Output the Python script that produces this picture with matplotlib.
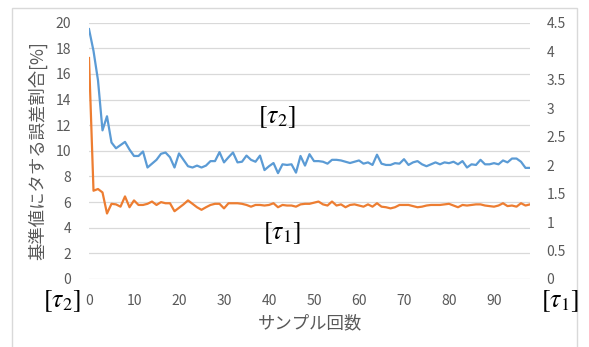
import numpy as np
import matplotlib
matplotlib.use("Agg")
import matplotlib.pyplot as plt
from matplotlib.patches import Rectangle
from matplotlib.ticker import FuncFormatter

plt.rcParams['font.family'] = ['Noto Sans CJK JP', 'DejaVu Sans']
plt.rcParams['mathtext.fontset'] = 'stix'

# tau2 (left axis, %)
tau2 = [19.5, 17.8, 15.5, 11.6, 12.7, 10.65, 10.2, 10.45, 10.7, 10.1,
        9.6, 9.6, 9.95, 8.7, 9.0, 9.3, 9.77, 9.87, 9.5, 8.7,
        9.8, 9.3, 8.8, 8.7, 8.85, 8.7, 8.85, 9.2, 9.2, 9.9,
        9.1, 9.5, 9.87, 9.1, 9.15, 9.63, 9.3, 9.15, 9.63, 8.5,
        8.8, 9.05, 8.26, 8.95, 8.9, 8.95, 8.3, 9.6, 8.85, 9.74,
        9.2, 9.2, 9.15, 9.0, 9.3, 9.3, 9.25, 9.15, 9.05, 9.15,
        9.25, 9.0, 9.1, 8.9, 9.7, 9.0, 8.9, 8.9, 9.04, 9.0,
        9.35, 8.9, 9.1, 9.2, 8.95, 8.8, 8.95, 9.1, 8.95, 9.1,
        9.04, 9.15, 8.95, 9.2, 8.7, 8.95, 8.9, 9.3, 8.95, 8.95,
        9.04, 8.95, 9.25, 9.1, 9.4, 9.4, 9.15, 8.67, 8.67]

# tau1 (right axis)
tau1 = [3.88, 1.55, 1.58, 1.52, 1.15, 1.32, 1.31, 1.27, 1.45, 1.26,
        1.38, 1.30, 1.30, 1.32, 1.36, 1.30, 1.35, 1.33, 1.33, 1.19,
        1.25, 1.31, 1.38, 1.32, 1.26, 1.215, 1.26, 1.30, 1.32, 1.32,
        1.24, 1.33, 1.33, 1.33, 1.32, 1.30, 1.27, 1.30, 1.30, 1.29,
        1.30, 1.33, 1.26, 1.30, 1.29, 1.29, 1.27, 1.31, 1.32, 1.32,
        1.34, 1.36, 1.31, 1.29, 1.36, 1.29, 1.31, 1.26, 1.30, 1.31,
        1.29, 1.27, 1.31, 1.27, 1.33, 1.27, 1.26, 1.24, 1.26, 1.30,
        1.30, 1.30, 1.28, 1.26, 1.27, 1.29, 1.30, 1.30, 1.30, 1.31,
        1.32, 1.29, 1.26, 1.30, 1.29, 1.30, 1.31, 1.31, 1.29, 1.28,
        1.27, 1.29, 1.33, 1.28, 1.29, 1.27, 1.33, 1.29, 1.31]

x_ticks = [0, 10, 20, 30, 40, 50, 60, 70, 80, 90]
left_ticks = [0, 2, 4, 6, 8, 10, 12, 14, 16, 18, 20]
right_ticks = [0, 0.5, 1, 1.5, 2, 2.5, 3, 3.5, 4, 4.5]

xlabel = "サンプル回数"
ylabel = "基準値にタする誤差割合[%]"

W, H = 589, 347
fig = plt.figure(figsize=(W / 100, H / 100), dpi=100)

# outer light frame
fig.patches.append(Rectangle((12 / W, -0.05), (577 - 12) / W, 1.05 - 8 / H,
                             transform=fig.transFigure, fill=False,
                             edgecolor='#d9d9d9', linewidth=1.0))

l, r, t, b = 89, 530, 22.7, 279
ax = fig.add_axes([l / W, 1 - b / H, (r - l) / W, (b - t) / H])
ax2 = ax.twinx()

tc = '#595959'
x1 = np.arange(len(tau2))
x2 = np.arange(len(tau1))

ax.plot(x1, tau2, color='#5B9BD5', linewidth=1.6, zorder=3)
ax2.plot(x2, tau1, color='#ED7D31', linewidth=1.6, zorder=3)

ax.set_xlim(0, len(tau2) - 1)
ax.set_ylim(0, 20)
ax2.set_ylim(0, 4.5)
ax.set_xticks(x_ticks)
ax.set_yticks(left_ticks)
ax2.set_yticks(right_ticks)
ax2.yaxis.set_major_formatter(FuncFormatter(lambda v, p: f'{v:g}'))

ax.grid(axis='y', color='#d9d9d9', linewidth=0.9)
ax.set_axisbelow(True)
for a in (ax, ax2):
    for s in a.spines.values():
        s.set_visible(False)
    a.tick_params(length=0, labelsize=10, labelcolor=tc)
ax.tick_params(axis='y', pad=13)
ax.tick_params(axis='x', pad=11)
ax2.tick_params(axis='y', pad=12)

ax.set_xlabel(xlabel, fontsize=12.5, color=tc, labelpad=4)
ax.set_ylabel(ylabel, fontsize=12.5, color=tc, labelpad=6)

def ftext(px, py, s):
    fig.text(px / W, 1 - py / H, s, ha='center', va='center',
             fontsize=18.5, color='black')

ftext(277, 117, r'$[\tau_2]$')
ftext(282, 233, r'$[\tau_1]$')
ftext(62, 301, r'$[\tau_2]$')
ftext(560, 301, r'$[\tau_1]$')

fig.savefig('out.png', dpi=100)
